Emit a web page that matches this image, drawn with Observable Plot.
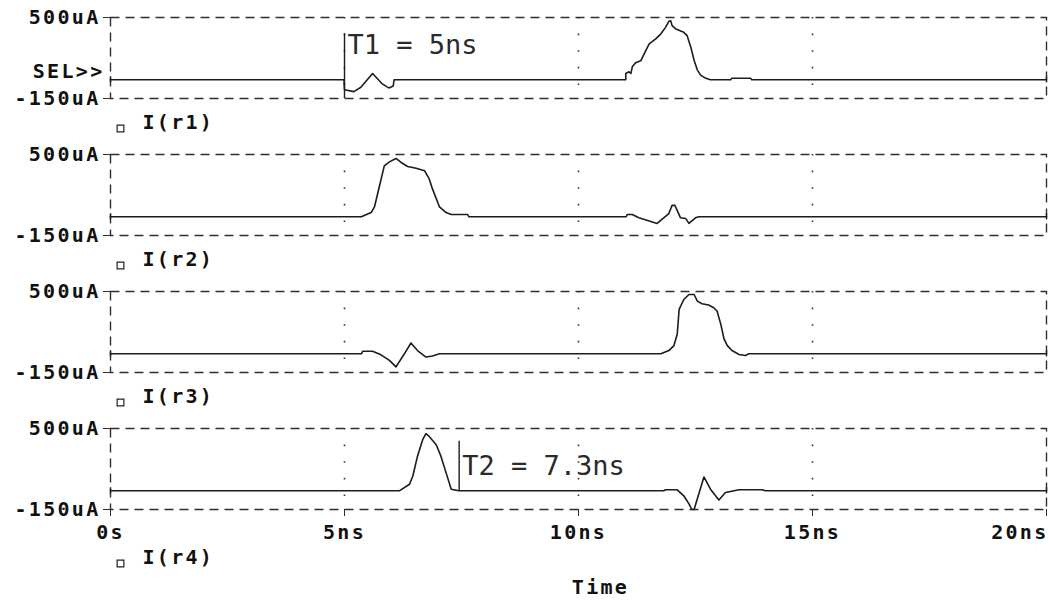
<!DOCTYPE html>
<html>
<head>
<meta charset="utf-8">
<script src="https://cdn.jsdelivr.net/npm/d3@7"></script>
<script src="https://cdn.jsdelivr.net/npm/@observablehq/plot@0.6"></script>
<style>
  body { margin: 0; background: #fff; }
  #chart svg { font-family: "DejaVu Sans Mono", monospace; font-weight: bold; font-size: 20px; letter-spacing: 2.3px; }
  #chart g[font-weight="normal"] { letter-spacing: 0; }
</style>
</head>
<body>
<div id="chart"></div>
<script>
// ---- data ----
const seriesNames = ["r1", "r2", "r3", "r4"];
const legendLabels = ["I(r1)", "I(r2)", "I(r3)", "I(r4)"];
const xTicks = [0, 5, 10, 15, 20];                 // ns
const xTickLabels = ["0s", "5ns", "10ns", "15ns", "20ns"];
const yTicks = [-150, 500];                        // uA
const yTickLabels = ["-150uA", "500uA"];
const gridTimes = [5, 10, 15];
const axisTitle = "Time";
const selLabel = "SEL>>";

// [time ns, current uA]
const r1 = [[0,0],[4.99,0],[5.0,-80],[5.2,-95],[5.35,-60],[5.6,50],[5.8,-30],[5.9,-55],[5.95,-65],[6.04,-50],[6.06,0],
  [11.01,0],[11.01,51],[11.08,64],[11.12,51],[11.15,104],[11.22,136],[11.33,152],[11.44,236],[11.51,289],[11.65,329],
  [11.76,369],[11.86,421],[11.93,469],[11.97,474],[12.0,435],[12.08,408],[12.25,381],[12.32,355],[12.40,262],[12.47,157],
  [12.54,78],[12.61,38],[12.72,12],[12.82,0],[13.25,0],[13.27,12],[13.68,12],[13.70,0],[20,0]];
const r2 = [[0,0],[5.36,0],[5.57,34],[5.64,79],[5.75,251],[5.85,409],[5.96,441],[6.10,468],[6.21,436],[6.35,404],
  [6.53,389],[6.71,370],[6.81,304],[6.88,224],[7.03,79],[7.17,34],[7.28,18],[7.63,18],[7.66,0],
  [11.02,0],[11.04,18],[11.15,18],[11.29,-8],[11.68,-53],[11.93,26],[12.0,92],[12.06,92],[12.18,-8],[12.29,-13],
  [12.36,-53],[12.50,-8],[12.57,0],[20,0]];
const r3 = [[0,0],[5.36,0],[5.39,21],[5.60,21],[5.78,-8],[5.96,-53],[6.10,-105],[6.28,0],[6.42,87],[6.56,26],
  [6.74,-26],[6.88,-18],[7.03,0],[11.76,0],[11.93,26],[12.04,66],[12.11,159],[12.15,357],[12.25,436],[12.36,476],
  [12.47,476],[12.54,423],[12.64,402],[12.78,391],[12.89,370],[12.96,343],[13.04,238],[13.11,119],[13.18,66],
  [13.28,26],[13.43,-5],[13.57,-13],[13.64,0],[20,0]];
const r4 = [[0,0],[6.17,0],[6.39,53],[6.46,119],[6.56,278],[6.67,410],[6.74,458],[6.81,436],[6.96,370],[7.06,278],
  [7.17,146],[7.28,13],[7.44,0],[11.82,0],[11.86,8],[12.11,8],[12.25,-40],[12.36,-105],[12.42,-150],[12.47,-150],
  [12.68,111],[12.82,13],[13.0,-74],[13.14,-13],[13.43,8],[13.92,8],[14.0,0],[20,0]];

// cursor annotations: time, extent (uA), label anchor (uA)
const cursorPanels = ["r1", "r4"];
const cursorTimes = [5, 7.45];
const cursorFrom = [-150, 0];
const cursorTo = [370, 397];
const cursorLabelAt = [276, 199];
const cursorTexts = ["T1 = 5ns", "T2 = 7.3ns"];

// ---- tables built from the arrays ----
const traces = [r1, r2, r3, r4].flatMap((pts, i) => pts.map(([t, v]) => ({s: seriesNames[i], t, v})));
const ends = traces.filter(d => d.t === xTicks[0] || d.t === xTicks[xTicks.length - 1]);
const cursors = cursorTimes.map((t, i) => ({fy: cursorPanels[i], t, from: cursorFrom[i], to: cursorTo[i], at: cursorLabelAt[i], text: cursorTexts[i]}));
const legend = seriesNames.map((s, i) => ({s, label: legendLabels[i]}));
const last = seriesNames[seriesNames.length - 1];
const ink = "#1c1c1c";

const chart = Plot.plot({
  width: 1049,
  height: 607,
  marginLeft: 110,
  marginRight: 3,
  marginTop: 16,
  marginBottom: 96,
  x: {domain: [xTicks[0], xTicks[xTicks.length - 1]]},
  y: {domain: [yTicks[0], yTicks[1]]},
  fy: {domain: seriesNames, paddingInner: 0.406, paddingOuter: 0, axis: null, label: null},
  marks: [
    Plot.frame({stroke: "#2e2e2e", strokeWidth: 1.4, strokeDasharray: "9,6"}),
    Plot.ruleX(gridTimes, {x: d => d, stroke: "#333", strokeWidth: 1.6, strokeDasharray: "1.6,15"}),
    Plot.axisY(yTicks, {tickSize: 7, tickPadding: 3, label: null, stroke: "#2e2e2e",
      tickFormat: d => yTickLabels[yTicks.indexOf(d)], fill: "#111"}),
    Plot.axisX(xTicks, {tickSize: 7, label: null, stroke: "#2e2e2e", tickFormat: () => ""}),
    Plot.text(xTicks.slice(0, -1), {x: d => d, text: (d, i) => xTickLabels[i], fy: () => last,
      frameAnchor: "bottom", dy: 29, fill: "#111"}),
    Plot.text(xTicks.slice(-1), {x: d => d, text: () => xTickLabels[xTickLabels.length - 1], fy: () => last,
      frameAnchor: "bottom", textAnchor: "end", dx: 2, dy: 29, fill: "#111"}),
    Plot.text([axisTitle], {text: d => d, fy: () => last, frameAnchor: "bottom", dx: 22, dy: 84, fill: "#111"}),
    Plot.text([selLabel], {text: d => d, fy: () => seriesNames[0], frameAnchor: "left", textAnchor: "end",
      dx: -6, dy: 13.5, fill: "#111"}),
    // legends under each panel
    Plot.dot(legend.slice(0, -1), {fy: "s", frameAnchor: "bottom-left", symbol: "square", r: 3.8,
      dx: 10, dy: 30, stroke: "#222", strokeWidth: 1.2, fill: "none"}),
    Plot.text(legend.slice(0, -1), {fy: "s", text: "label", frameAnchor: "bottom-left", textAnchor: "start",
      dx: 32, dy: 30, fill: "#111"}),
    Plot.dot(legend.slice(-1), {fy: "s", frameAnchor: "bottom-left", symbol: "square", r: 3.8,
      dx: 10, dy: 54, stroke: "#222", strokeWidth: 1.2, fill: "none"}),
    Plot.text(legend.slice(-1), {fy: "s", text: "label", frameAnchor: "bottom-left", textAnchor: "start",
      dx: 32, dy: 54, fill: "#111"}),
    // traces
    Plot.line(traces, {x: "t", y: "v", z: "s", fy: "s", stroke: ink, strokeWidth: 1.6}),
    Plot.ruleX(ends, {x: "t", y1: d => d.v - 25, y2: d => d.v + 25, fy: "s", stroke: ink, strokeWidth: 1.4}),
    // cursors
    Plot.ruleX(cursors, {x: "t", y1: "from", y2: "to", fy: "fy", stroke: ink, strokeWidth: 1.4}),
    Plot.text(cursors, {x: "t", y: "at", text: "text", fy: "fy", textAnchor: "start", dx: 3,
      fontFamily: "DejaVu Sans Mono", fontWeight: "normal", fontSize: 27, fill: "#2a2a2a"})
  ]
});
document.getElementById("chart").appendChild(chart);
</script>
</body>
</html>
